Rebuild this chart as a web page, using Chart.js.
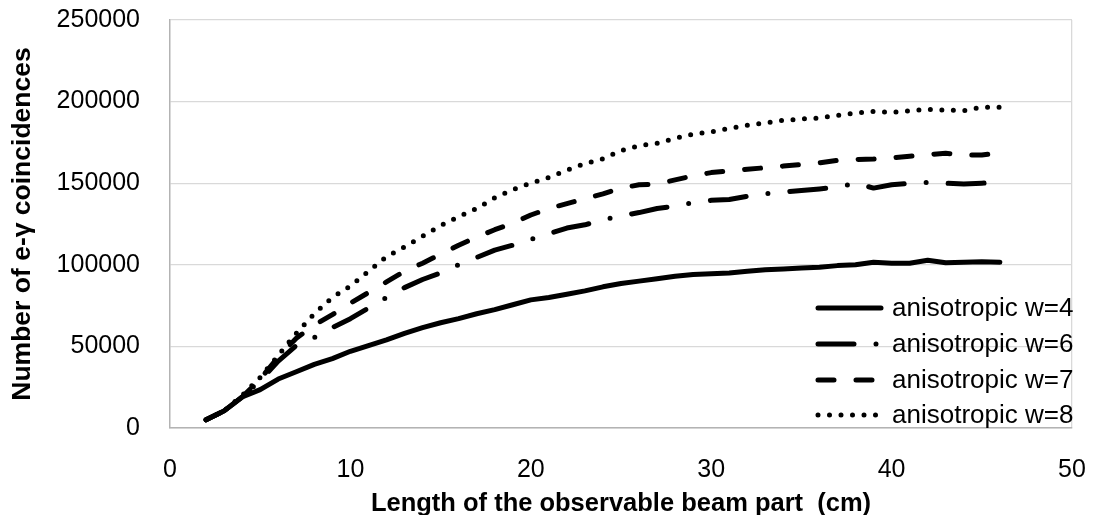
<!DOCTYPE html>
<html><head><meta charset="utf-8">
<script src="https://cdn.jsdelivr.net/npm/chart.js@4.4.1/dist/chart.umd.min.js"></script>
<style>html,body{margin:0;padding:0;background:#fff}#wrap{width:1094px;height:515px}</style>
</head><body><div id="wrap"><canvas id="c" width="1094" height="515"></canvas></div>
<script>
const lengthsCm = [2,3,4,5,6,7,8,9,10,11,12,13,14,15,16,17,18,19,20,21,22,23,24,25,26,27,28,29,30,31,32,33,34,35,36,37,38,39,40,41,42,43,44,45,46];
const w4 = [5000,10500,19000,23500,30000,34500,39000,42500,47000,50500,54000,58000,61500,64500,67000,70000,72500,75500,78500,80000,82000,84000,86500,88500,90000,91500,93000,94000,94500,95000,96000,97000,97500,98000,98500,99500,100000,101500,101000,101000,102800,101300,101500,101800,101500];
const w6 = [5000,10500,19000,29000,41000,50500,55500,61500,67000,73500,80000,86000,91000,95000,100000,104500,109000,112000,115500,119000,122500,124500,127500,130000,132000,134500,136000,138000,139500,140000,142000,143500,144500,145500,146500,147500,150000,147000,149000,150000,150500,150000,149500,150000,150500];
const w7 = [5000,10500,19000,30000,43500,55000,63000,69500,76500,83000,89500,96000,101000,106500,112000,117000,121500,125500,130500,134500,137500,140500,143500,147000,149000,149500,152000,154500,156500,157500,158500,159500,160500,161500,162500,164000,164500,164800,165500,166500,167500,168300,167300,167300,168700];
const w8 = [5000,10500,20000,31000,44500,58000,70000,80000,87000,96000,105000,111000,117500,124000,129500,134500,141000,146000,150000,153500,158000,162000,165000,170000,173000,174500,177500,180000,181500,183500,185500,187000,188500,189300,190000,191500,193000,194000,193500,194300,195300,194800,194500,196500,196500];
const seriesLabels = ['anisotropic w=4','anisotropic w=6','anisotropic w=7','anisotropic w=8'];
const xTicks = [0,10,20,30,40,50];
const yTicks = [0,50000,100000,150000,200000,250000];
const xTitle = 'Length of the observable beam part  (cm)';
const yTitle = 'Number of e-\u03b3 coincidences';

const FAMILY = '"Liberation Sans", Arial, sans-serif';
Chart.defaults.font.family = FAMILY;
Chart.defaults.color = '#000';

const dashes = [[], [36, 22, 0, 22], [16, 22], [0, 11.5]];
const seriesData = [w4, w6, w7, w8];

const datasets = seriesData.map((arr, i) => ({
  label: seriesLabels[i],
  data: arr.map((v, j) => ({x: lengthsCm[j], y: v})),
  borderColor: '#000',
  borderWidth: 5,
  borderDash: dashes[i],
  borderCapStyle: 'round',
  borderJoinStyle: 'round',
  pointRadius: 0,
  tension: 0,
  fill: false
}));

const legendPlugin = {
  id: 'customLegend',
  afterDatasetsDraw(chart) {
    const ctx = chart.ctx;
    const x0 = 818, x1 = 881, tx = 892;
    const ys = [308, 344, 380, 415];
    chart.data.datasets.forEach((ds, i) => {
      ctx.save();
      ctx.strokeStyle = ds.borderColor;
      ctx.lineWidth = ds.borderWidth;
      ctx.lineCap = 'round';
      ctx.setLineDash(ds.borderDash);
      ctx.beginPath();
      ctx.moveTo(x0, ys[i]);
      ctx.lineTo(x1, ys[i]);
      ctx.stroke();
      ctx.setLineDash([]);
      ctx.fillStyle = '#000';
      ctx.font = '26px ' + FAMILY;
      ctx.textBaseline = 'middle';
      ctx.textAlign = 'left';
      ctx.fillText(ds.label, tx, ys[i] + 1);
      ctx.restore();
    });
  }
};

new Chart(document.getElementById('c'), {
  type: 'line',
  data: {datasets},
  plugins: [legendPlugin],
  options: {
    responsive: false,
    animation: false,
    devicePixelRatio: 1,
    layout: {padding: {top: 20, right: 22, left: 0, bottom: 0}},
    plugins: {legend: {display: false}, tooltip: {enabled: false}},
    scales: {
      x: {
        type: 'linear', min: 0, max: 50,
        afterBuildTicks: s => { s.ticks = xTicks.map(v => ({value: v})); },
        afterFit: s => { s.height = 87; },
        grid: {color: c => (c.tick && c.tick.value === 50) ? '#d9d9d9' : 'rgba(0,0,0,0)', lineWidth: 1.3, drawTicks: true, tickLength: 27, tickColor: 'rgba(0,0,0,0)'},
        border: {color: '#b3b3b3', width: 1.5},
        ticks: {font: {size: 25}, color: '#000', padding: 0, maxRotation: 0, autoSkip: false},
        title: {display: true, text: xTitle, font: {size: 25.5, weight: 'bold', lineHeight: 0.85}, color: '#000', padding: 0}
      },
      y: {
        type: 'linear', min: 0, max: 250000,
        afterBuildTicks: s => { s.ticks = yTicks.map(v => ({value: v})); },
        afterFit: s => { s.width = 170; },
        grid: {color: '#d9d9d9', lineWidth: 1.3, drawTicks: true, tickLength: 30, tickColor: 'rgba(0,0,0,0)'},
        border: {color: '#b3b3b3', width: 1.5},
        ticks: {font: {size: 25}, color: '#000', padding: 0, callback: v => String(v)},
        title: {display: true, text: yTitle, font: {size: 26.5, weight: 'bold'}, color: '#000', padding: {top: 7, bottom: 0}}
      }
    }
  }
});
</script>
</body></html>
